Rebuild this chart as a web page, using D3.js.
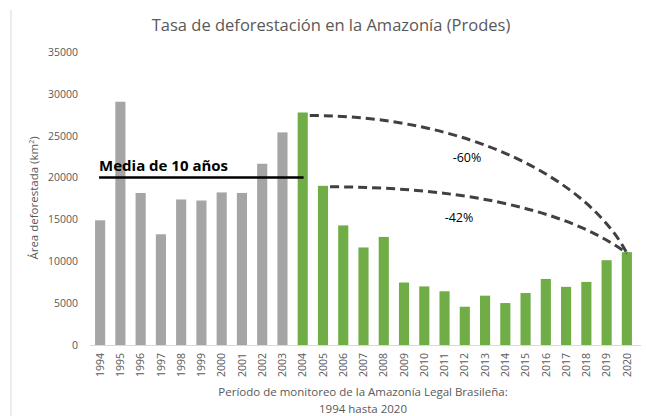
<!DOCTYPE html>
<html>
<head>
<meta charset="utf-8">
<script src="https://cdn.jsdelivr.net/npm/d3@7"></script>
<style>
  body { margin: 0; background: #fff; }
  text { font-family: "Open Sans", "Liberation Sans", sans-serif; }
</style>
</head>
<body>
<div id="chart"></div>
<script>
// datos PRODES (km²)
const years = ["1994","1995","1996","1997","1998","1999","2000","2001","2002","2003","2004","2005","2006","2007","2008","2009","2010","2011","2012","2013","2014","2015","2016","2017","2018","2019","2020"];
const values = [14896,29059,18161,13227,17383,17259,18226,18165,21650,25396,27772,19014,14286,11651,12911,7464,7000,6418,4571,5891,5012,6207,7893,6947,7536,10129,11088];
const yTicks = [0,5000,10000,15000,20000,25000,30000,35000];
const meanValue = 20000;
const meanFrom = "1994", meanTo = "2003";
const drops = [{from: "2004", to: "2020", label: "-60%"}, {from: "2005", to: "2020", label: "-42%"}];

const W = 646, H = 416;
const margin = {top: 52, right: 9, bottom: 71, left: 90};
const width = W - margin.left - margin.right;
const height = H - margin.top - margin.bottom;

const svg = d3.select("#chart").append("svg")
    .attr("width", W).attr("height", H);

// borde izquierdo del gráfico
svg.append("line")
    .attr("x1", 11).attr("x2", 11).attr("y1", 10).attr("y2", H)
    .attr("stroke", "#d9d9d9").attr("stroke-width", 1);

const g = svg.append("g").attr("transform", `translate(${margin.left},${margin.top})`);

const x = d3.scaleBand().domain(years).range([0, width]).paddingInner(0.5).paddingOuter(0.25);
const y = d3.scaleLinear().domain([0, 35000]).range([height, 0]);

// título
svg.append("text")
    .attr("x", 331).attr("y", 31)
    .attr("text-anchor", "middle")
    .attr("font-size", 16.5)
    .attr("fill", "#595959")
    .text("Tasa de deforestación en la Amazonía (Prodes)");

// eje y
const yAxis = g.append("g")
    .call(d3.axisLeft(y).tickValues(yTicks).tickFormat(d3.format("d")).tickSize(0).tickPadding(12));
yAxis.select(".domain").remove();
yAxis.selectAll("text").attr("font-size", 10.5).attr("fill", "#595959")
    .style("font-family", "'Open Sans', sans-serif");

// barras
g.selectAll(".bar")
    .data(years.map((yr, i) => ({yr, v: values[i], i})))
    .enter().append("rect")
    .attr("class", "bar")
    .attr("x", d => x(d.yr))
    .attr("y", d => y(d.v))
    .attr("width", x.bandwidth())
    .attr("height", d => height - y(d.v))
    .attr("fill", d => +d.yr >= 2004 ? "#70ad47" : "#a5a5a5");

// eje x
const xAxis = g.append("g")
    .attr("transform", `translate(0,${height})`)
    .call(d3.axisBottom(x).tickSize(0).tickPadding(8));
xAxis.select(".domain").attr("stroke", "#d9d9d9").attr("d", `M0,0.5H${width + 4}`);
xAxis.selectAll("text")
    .attr("transform", "rotate(-90)")
    .attr("text-anchor", "end")
    .attr("dy", "0.35em")
    .attr("x", -8).attr("y", 0)
    .attr("font-size", 10.5).attr("fill", "#595959")
    .style("font-family", "'Open Sans', sans-serif");

// título eje y
svg.append("text")
    .attr("transform", "translate(38,198) rotate(-90)")
    .attr("text-anchor", "middle")
    .attr("font-size", 11.5).attr("fill", "#595959")
    .html("Área deforestada (km<tspan dy='-4' font-size='7'>2</tspan><tspan dy='4'>)</tspan>");

// título eje x
svg.append("text")
    .attr("x", 363).attr("y", 396)
    .attr("text-anchor", "middle")
    .attr("font-size", 11.5).attr("fill", "#595959")
    .text("Período de monitoreo de la Amazonía Legal Brasileña:");
svg.append("text")
    .attr("x", 363).attr("y", 413)
    .attr("text-anchor", "middle")
    .attr("font-size", 11.5).attr("fill", "#595959")
    .text("1994 hasta 2020");

// media de 10 años
g.append("line")
    .attr("x1", x(meanFrom) + 4).attr("x2", x(meanTo) + x.bandwidth() * 1.5 + 11)
    .attr("y1", y(meanValue)).attr("y2", y(meanValue))
    .attr("stroke", "#000").attr("stroke-width", 2.5);
g.append("text")
    .attr("x", x(meanFrom) + 4).attr("y", y(meanValue) - 7)
    .attr("font-size", 15).attr("font-weight", "bold").attr("fill", "#000")
    .text("Media de 10 años");

// curvas de reducción
const valOf = yr => values[years.indexOf(yr)];
drops.forEach((d, k) => {
    const x0 = x(d.from) + x.bandwidth() + 2;
    const y0 = y(valOf(d.from)) + (k === 0 ? 3 : 1);
    const x1 = x(d.to) + x.bandwidth() / 2;
    const y1 = y(valOf(d.to)) + 1;
    const c1x = x0 + (x1 - x0) * (k === 0 ? 0.5 : 0.4);
    const c2x = x1 - (x1 - x0) * (k === 0 ? 0.12 : 0.22);
    const c2y = y0 + (y1 - y0) * (k === 0 ? 0.47 : 0.28);
    const p = d3.path();
    p.moveTo(x0, y0);
    p.bezierCurveTo(c1x, y0, c2x, c2y, x1, y1);
    g.append("path")
        .attr("d", p.toString())
        .attr("fill", "none")
        .attr("stroke", "#404040")
        .attr("stroke-width", 3)
        .attr("stroke-dasharray", "9,5");
});
svg.append("text")
    .attr("x", 467).attr("y", 162)
    .attr("text-anchor", "middle").attr("font-size", 12.5).attr("fill", "#000")
    .text(drops[0].label);
svg.append("text")
    .attr("x", 459).attr("y", 222)
    .attr("text-anchor", "middle").attr("font-size", 12.5).attr("fill", "#000")
    .text(drops[1].label);
</script>
</body>
</html>
